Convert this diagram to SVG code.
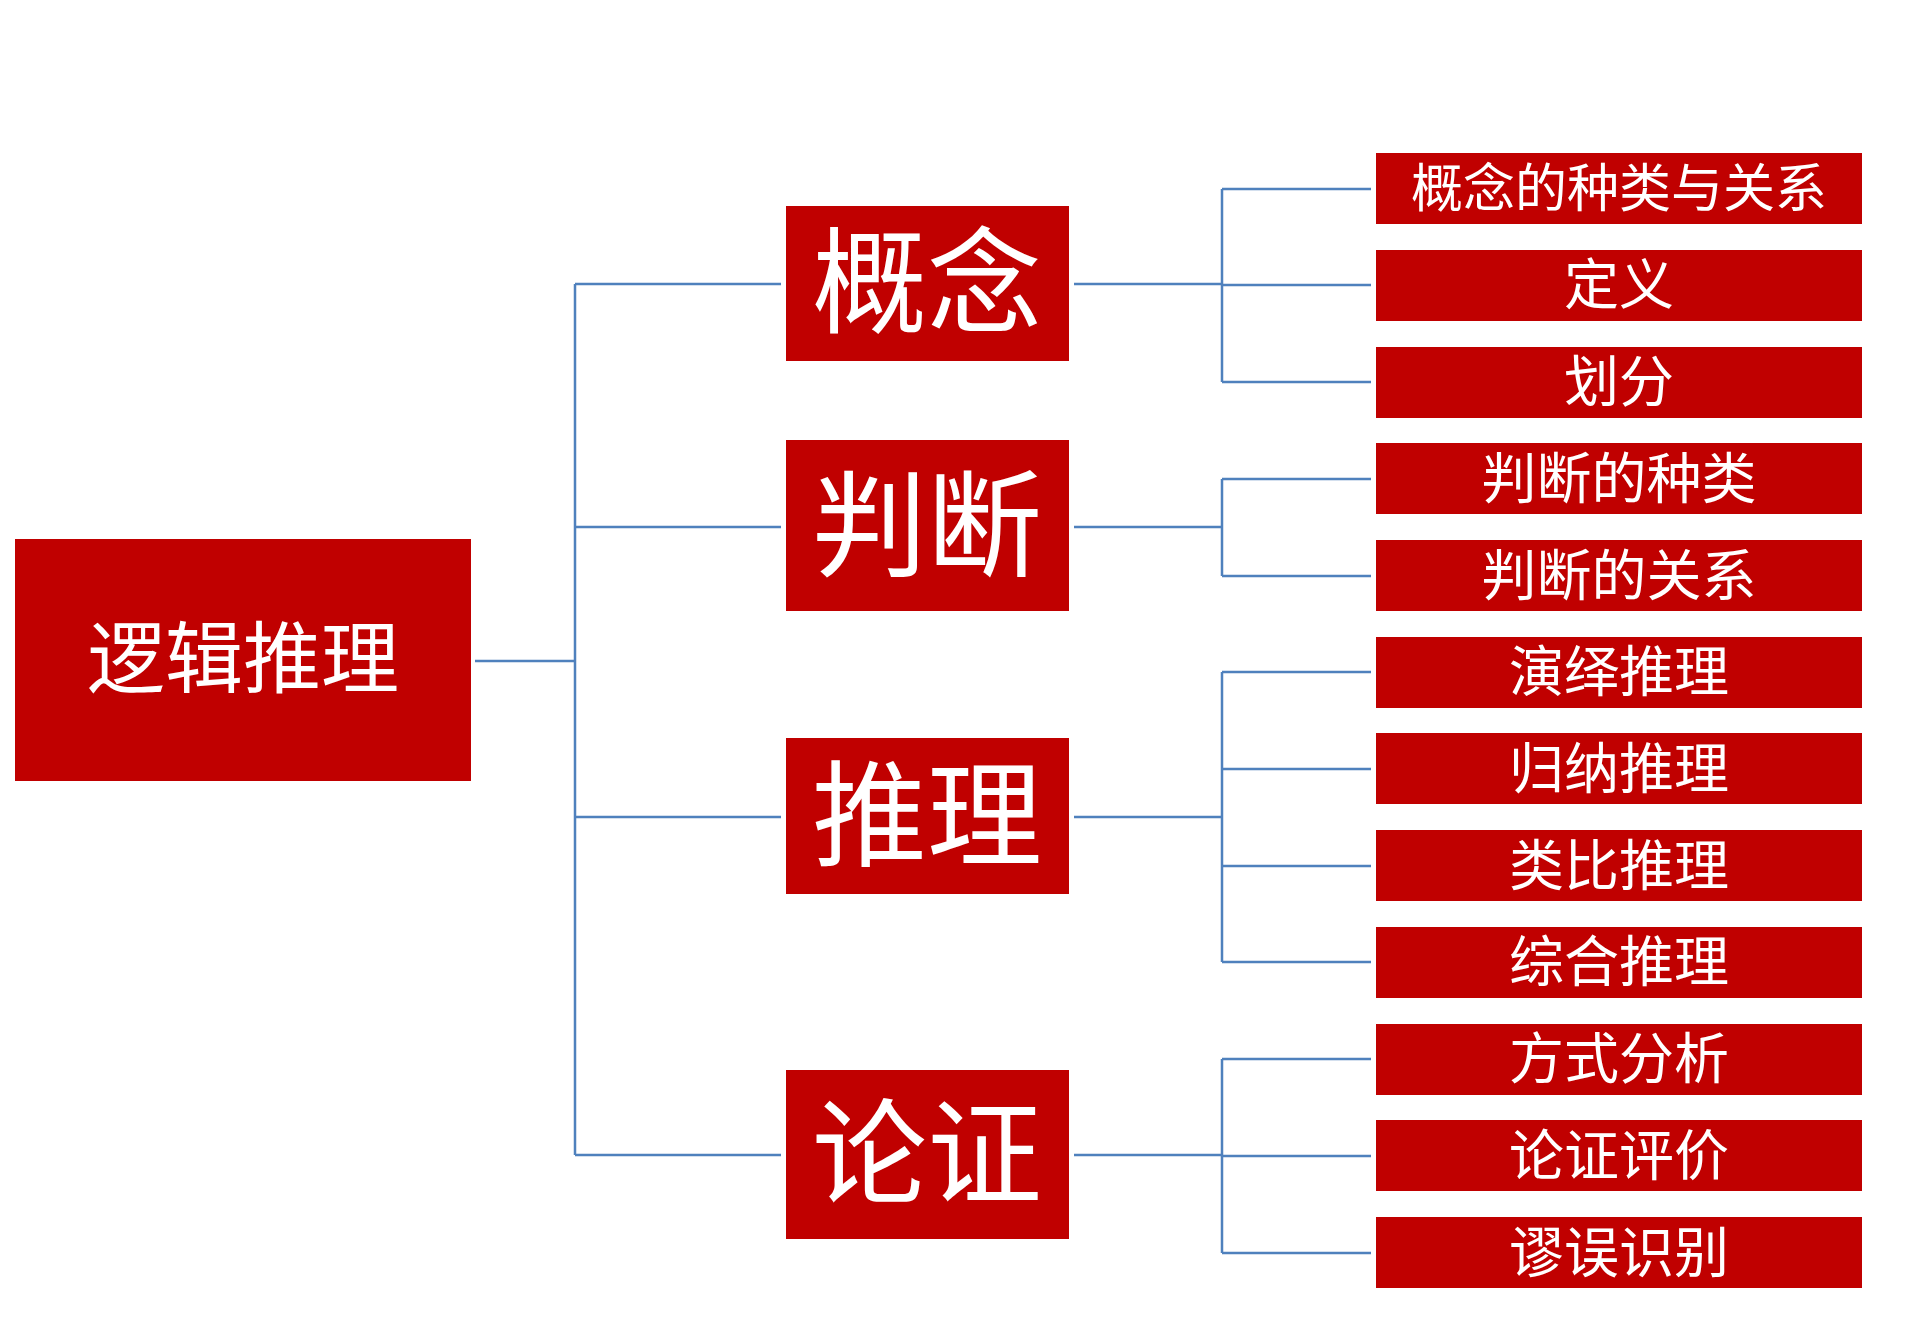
<svg xmlns="http://www.w3.org/2000/svg" width="1920" height="1338" viewBox="0 0 1920 1338">
<style>
.n{fill:#c00000}
.t{fill:#fff;font-family:"Liberation Sans","Noto Sans CJK SC",sans-serif;text-anchor:middle;dominant-baseline:central}
.c{fill:none;stroke:#4f81bd;stroke-width:2.5}
</style>
<rect width="1920" height="1338" fill="#fff"/>
<g id="connectors" class="c">
<path d="M475 661H575M575 284V1155M575 284H781M575 527H781M575 817H781M575 1155H781"/>
<path d="M1074 284H1222M1222 189V382M1222 189H1371M1222 285H1371M1222 382H1371"/>
<path d="M1074 527H1222M1222 479V576M1222 479H1371M1222 576H1371"/>
<path d="M1074 817H1222M1222 672V962M1222 672H1371M1222 769H1371M1222 866H1371M1222 962H1371"/>
<path d="M1074 1155H1222M1222 1059V1253M1222 1059H1371M1222 1156H1371M1222 1253H1371"/>
</g>
<g id="root"><rect class="n" x="15" y="539" width="456" height="242"/><text class="t" x="243" y="660" font-size="78">逻辑推理</text></g>
<g id="m1"><rect class="n" x="786" y="206" width="283" height="155"/><text class="t" x="927" y="284" font-size="115">概念</text></g>
<g id="m2"><rect class="n" x="786" y="440" width="283" height="171"/><text class="t" x="927" y="527" font-size="115">判断</text></g>
<g id="m3"><rect class="n" x="786" y="738" width="283" height="156"/><text class="t" x="927" y="817" font-size="115">推理</text></g>
<g id="m4"><rect class="n" x="786" y="1070" width="283" height="169"/><text class="t" x="927" y="1155" font-size="115">论证</text></g>
<g id="l1"><rect class="n" x="1376" y="153" width="486" height="71"/><text class="t" x="1619" y="189" font-size="52">概念的种类与关系</text></g>
<g id="l2"><rect class="n" x="1376" y="250" width="486" height="71"/><text class="t" x="1619" y="285" font-size="55">定义</text></g>
<g id="l3"><rect class="n" x="1376" y="347" width="486" height="71"/><text class="t" x="1619" y="382" font-size="55">划分</text></g>
<g id="l4"><rect class="n" x="1376" y="443" width="486" height="71"/><text class="t" x="1619" y="479" font-size="55">判断的种类</text></g>
<g id="l5"><rect class="n" x="1376" y="540" width="486" height="71"/><text class="t" x="1619" y="576" font-size="55">判断的关系</text></g>
<g id="l6"><rect class="n" x="1376" y="637" width="486" height="71"/><text class="t" x="1619" y="672" font-size="55">演绎推理</text></g>
<g id="l7"><rect class="n" x="1376" y="733" width="486" height="71"/><text class="t" x="1619" y="769" font-size="55">归纳推理</text></g>
<g id="l8"><rect class="n" x="1376" y="830" width="486" height="71"/><text class="t" x="1619" y="866" font-size="55">类比推理</text></g>
<g id="l9"><rect class="n" x="1376" y="927" width="486" height="71"/><text class="t" x="1619" y="962" font-size="55">综合推理</text></g>
<g id="l10"><rect class="n" x="1376" y="1024" width="486" height="71"/><text class="t" x="1619" y="1059" font-size="55">方式分析</text></g>
<g id="l11"><rect class="n" x="1376" y="1120" width="486" height="71"/><text class="t" x="1619" y="1156" font-size="55">论证评价</text></g>
<g id="l12"><rect class="n" x="1376" y="1217" width="486" height="71"/><text class="t" x="1619" y="1253" font-size="55">谬误识别</text></g>
</svg>
